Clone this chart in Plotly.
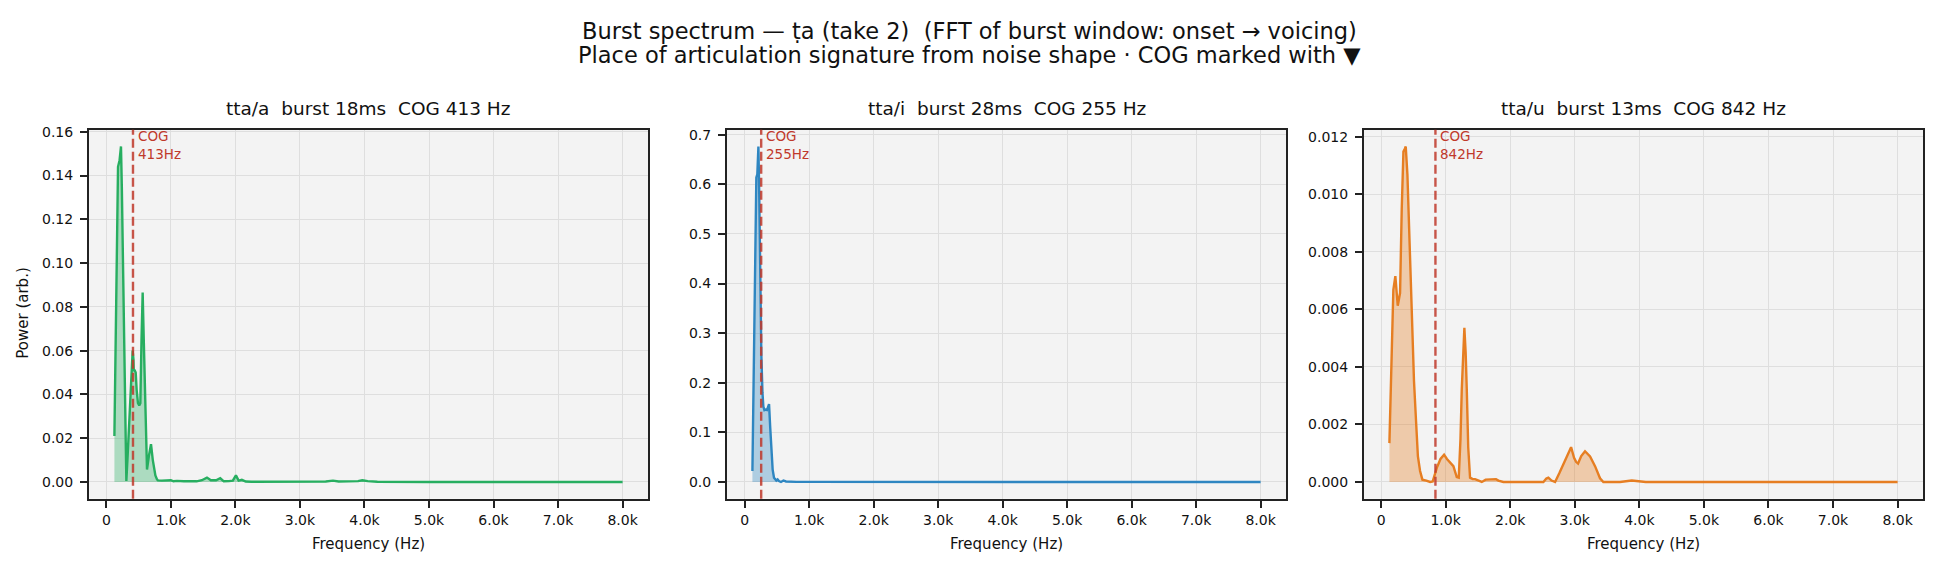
import plotly.graph_objects as go

# ---------------- data ----------------
freq_a = [125, 150, 181, 205, 227, 240, 270, 295, 310, 330, 360, 395, 408, 420, 425, 440, 455,
          470, 490, 510, 527, 545, 563, 580, 600, 630, 660, 692, 720, 760, 785, 800, 860, 940,
          1000, 1040, 1094, 1200, 1300, 1400, 1480, 1559, 1620, 1700, 1765, 1820, 1900, 1960,
          2008, 2050, 2100, 2160, 2250, 2500, 3000, 3400, 3512, 3600, 3900, 3967, 4050, 4200,
          5000, 6000, 7000, 8000]
power_a = [0.021, 0.080, 0.144, 0.147, 0.1533, 0.135, 0.070, 0.020, 0.0005, 0.012, 0.031, 0.052,
           0.060, 0.056, 0.051, 0.051, 0.050, 0.042, 0.036, 0.035, 0.036, 0.065, 0.0866, 0.065,
           0.035, 0.0057, 0.012, 0.0173, 0.010, 0.003, 0.0012, 0.0007, 0.0006, 0.0009, 0.0008,
           0.0003, 0.0005, 0.0003, 0.0002, 0.0003, 0.0008, 0.0020, 0.0008, 0.0008, 0.0017, 0.0003,
           0.0004, 0.0006, 0.0030, 0.0006, 0.0010, 0.0002, 0.0001, 0.0001, 0.0001, 0.0002, 0.0006,
           0.0002, 0.0004, 0.0008, 0.0004, 0.0001, 0.0, 0.0, 0.0, 0.0]

freq_i = [119, 144, 165, 180, 195, 212, 225, 237, 258, 275, 289, 305, 325, 345, 360, 377, 395,
          413, 433, 454, 490, 510, 531, 562, 600, 640, 700, 800, 1000, 1500, 1950, 2003, 2060,
          2500, 2740, 2778, 2820, 3000, 4000, 5000, 6000, 7000, 8000]
power_i = [0.022, 0.288, 0.50, 0.614, 0.62, 0.6764, 0.58, 0.454, 0.255, 0.18, 0.152, 0.145, 0.146,
           0.145, 0.152, 0.157, 0.11, 0.055, 0.025, 0.0086, 0.003, 0.005, 0.002, 0.0, 0.003,
           0.001, 0.0005, 0.0002, 0.0001, 0.0001, 0.0003, 0.0015, 0.0003, 0.0002, 0.0004, 0.0015,
           0.0003, 0.0001, 0.0001, 0.0, 0.0, 0.0, 0.0]

freq_u = [129, 160, 190, 221, 240, 258, 280, 294, 320, 346, 370, 382, 408, 440, 475, 510, 542,
          570, 604, 640, 700, 760, 800, 863, 920, 976, 1020, 1069, 1120, 1172, 1203, 1230, 1250,
          1290, 1310, 1327, 1350, 1378, 1420, 1456, 1500, 1560, 1620, 1700, 1780, 1817, 1895,
          2200, 2514, 2560, 2591, 2640, 2695, 2760, 2824, 2876, 2943, 2989, 3020, 3051, 3100,
          3159, 3237, 3314, 3391, 3443, 3700, 3883, 4100, 5000, 6000, 7000, 8000]
power_u = [0.00135, 0.0045, 0.00668, 0.00716, 0.0065, 0.00613, 0.0064, 0.00657, 0.0095, 0.01149,
           0.01160, 0.011669, 0.01069, 0.0083, 0.00554, 0.0035, 0.0021, 0.0009, 0.00038, 0.00008,
           0.00005, 0.0, 0.00002, 0.00049, 0.0008, 0.00095, 0.0008, 0.00066, 0.00055, 0.00017,
           0.00015, 0.0015, 0.00324, 0.00536, 0.0045, 0.00324, 0.0012, 0.00015, 0.0001, 0.0001,
           0.00005, 0.0, 0.00008, 0.0001, 0.0001, 0.00005, 0.0, 0.0, 0.0, 0.00012, 0.00015,
           0.00005, 0.0, 0.0003, 0.00061, 0.00084, 0.00121, 0.00084, 0.0007, 0.00064, 0.0009,
           0.00107, 0.00089, 0.00055, 0.00013, 0.0, 0.0, 0.00005, 0.0, 0.0, 0.0, 0.0, 0.0]

panel_titles = ["tta/a  burst 18ms  COG 413 Hz",
                "tta/i  burst 28ms  COG 255 Hz",
                "tta/u  burst 13ms  COG 842 Hz"]
cog_hz = [413, 255, 842]
xtick_vals = [0, 1000, 2000, 3000, 4000, 5000, 6000, 7000, 8000]
xtick_text = ["0", "1.0k", "2.0k", "3.0k", "4.0k", "5.0k", "6.0k", "7.0k", "8.0k"]
suptitle_1 = "Burst spectrum — ṭa (take 2)  (FFT of burst window: onset → voicing)"
suptitle_2 = "Place of articulation signature from noise shape · COG marked with ▼"

# ---------------- styling ----------------
W, H = 1938, 569
FONT = "DejaVu Sans"
line_colors = ["#27ae60", "#2e86c1", "#e67e22"]
fill_colors = ["rgba(39,174,96,0.35)", "rgba(46,134,193,0.35)", "rgba(230,126,34,0.35)"]
cog_color = "#c0392b"
ytick_fmt = [".2f", ".1f", ".3f"]
ytick_dtick = [0.02, 0.1, 0.002]
panel_px = [(89, 648), (727, 1286), (1364, 1923)]
top_px, bot_px = 125, 498

series = [(freq_a, power_a), (freq_i, power_i), (freq_u, power_u)]

fig = go.Figure()
annotations = []
shapes = []
layout = {}

for i, ((fx, py), (x0, x1)) in enumerate(zip(series, panel_px)):
    n = i + 1
    xa = "x" if n == 1 else f"x{n}"
    ya = "y" if n == 1 else f"y{n}"
    fig.add_trace(go.Scatter(x=fx, y=py, mode="lines", fill="tozeroy",
                             fillcolor=fill_colors[i],
                             line=dict(color=line_colors[i], width=2.4),
                             xaxis=xa, yaxis=ya, showlegend=False, hoverinfo="skip"))
    # matplotlib-like autoscale with 5% margins
    dmin, dmax = min(fx), 8000
    span = dmax - dmin
    xr = [dmin - 0.05 * span, dmax + 0.05 * span]
    ymax = max(py)
    yr = [-0.05 * ymax, 1.05 * ymax]

    common = dict(showline=True, linewidth=2, linecolor="#222222", mirror=True,
                  ticks="outside", ticklen=7, tickwidth=1.5, tickcolor="#222222",
                  showgrid=True, gridcolor="#dedede", gridwidth=1.2, zeroline=False,
                  tickfont=dict(family=FONT, size=14, color="#111111"))
    layout["xaxis" if n == 1 else f"xaxis{n}"] = dict(
        domain=[x0 / W, x1 / W], anchor=ya, range=xr,
        tickvals=xtick_vals, ticktext=xtick_text, **common)
    layout["yaxis" if n == 1 else f"yaxis{n}"] = dict(
        domain=[1 - bot_px / H, 1 - top_px / H], anchor=xa, range=yr,
        dtick=ytick_dtick[i], tick0=0, tickformat=ytick_fmt[i],
        ticklabelstandoff=4, **common)

    # COG dashed line
    shapes.append(dict(type="line", xref=xa, yref=f"{ya} domain", x0=cog_hz[i], x1=cog_hz[i],
                       y0=0, y1=1, line=dict(color=cog_color, width=2.4, dash="9px,4px"),
                       opacity=0.85, layer="above"))
    annotations.append(dict(xref=xa, yref=f"{ya} domain", x=cog_hz[i], y=1.0,
                            text=f"COG<br>{cog_hz[i]}Hz", showarrow=False,
                            xanchor="left", yanchor="top", xshift=3, yshift=4, align="left",
                            font=dict(family=FONT, size=13.5, color=cog_color)))
    # panel title
    annotations.append(dict(xref="paper", yref="paper", x=(x0 + x1) / 2 / W, y=1 - 104 / H,
                            text=panel_titles[i], showarrow=False, xanchor="center",
                            yanchor="middle", font=dict(family=FONT, size=18.5, color="#111111")))
    # x-axis title
    annotations.append(dict(xref="paper", yref="paper", x=(x0 + x1) / 2 / W, y=1 - 544 / H,
                            text="Frequency (Hz)", showarrow=False, xanchor="center",
                            yanchor="middle", font=dict(family=FONT, size=15, color="#111111")))

annotations.append(dict(xref="paper", yref="paper", x=23 / W, y=1 - 311 / H,
                        text="Power (arb.)", textangle=-90, showarrow=False,
                        xanchor="center", yanchor="middle",
                        font=dict(family=FONT, size=15, color="#111111")))
annotations.append(dict(xref="paper", yref="paper", x=0.5, y=1 - 25 / H, text=suptitle_1,
                        showarrow=False, xanchor="center", yanchor="middle",
                        font=dict(family=FONT, size=22.5, color="#111111")))
annotations.append(dict(xref="paper", yref="paper", x=0.5, y=1 - 50 / H, text=suptitle_2,
                        showarrow=False, xanchor="center", yanchor="middle",
                        font=dict(family=FONT, size=22.5, color="#111111")))

fig.update_layout(width=W, height=H, margin=dict(l=0, r=0, t=0, b=0),
                  paper_bgcolor="white", plot_bgcolor="#f3f3f3",
                  font=dict(family=FONT), annotations=annotations, shapes=shapes,
                  showlegend=False, **layout)

fig.write_html("out.html")
